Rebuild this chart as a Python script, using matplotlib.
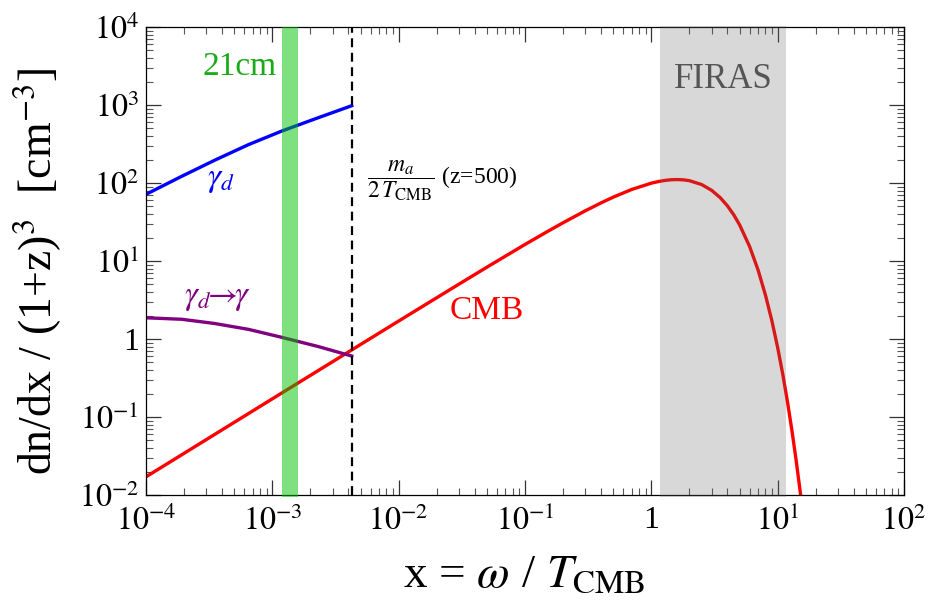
import numpy as np
import matplotlib
matplotlib.use('Agg')
import matplotlib.pyplot as plt
from matplotlib.ticker import LogLocator, NullFormatter, FuncFormatter

plt.rcParams['font.family'] = ['Liberation Serif', 'DejaVu Serif']
plt.rcParams['mathtext.fontset'] = 'stix'

# valores lidos do grafico
# espectro CMB
cmb_x = [1e-4, 1e-3, 1e-2, 0.03, 0.05, 0.1, 0.15, 0.2, 0.3, 0.4, 0.5, 0.7, 1.0, 1.15,
         1.3, 1.45, 1.6, 1.8, 2.0, 2.5, 3.0, 3.5, 4.0, 4.5, 5.0, 6.0, 7.0, 8.0, 9.0,
         10.0, 11.0, 12.0, 13.0, 14.0, 15.0, 15.5]
cmb_y = [0.0171, 0.171, 1.70, 5.05, 8.34, 16.3, 23.8, 30.9, 44.0, 55.6, 65.9, 82.7, 99.5, 104.8,
         108.3, 110.2, 110.7, 109.7, 107.1, 95.6, 80.6, 65.2, 51.0, 38.9, 29.0, 15.3, 7.65, 3.67, 1.71,
         0.776, 0.346, 0.151, 0.0653, 0.0279, 0.0118, 0.0076]

# foton escuro
gd_x = [1e-4, 1.92e-4, 3.5e-4, 6.46e-4, 1.19e-3, 2.31e-3, 4.25e-3]
gd_y = [71.6, 122, 196, 310, 464, 687, 979]

# conversao gamma_d -> gamma
conv_x = [1e-4, 1.92e-4, 3.5e-4, 6.46e-4, 1.19e-3, 2.31e-3, 4.25e-3]
conv_y = [1.87, 1.79, 1.58, 1.33, 1.05, 0.80, 0.605]

x_ma = 4.25e-3           # m_a / 2T_CMB (z=500)
banda_21cm = [1.2e-3, 1.6e-3]
banda_firas = [1.17, 11.7]

fig = plt.figure(figsize=(9.3, 6), dpi=100)
ax = fig.add_axes([146/930, 105/600, 758/930, 468/600])

ax.plot(cmb_x, cmb_y, color='#ff0000', lw=2.4)
ax.plot(gd_x, gd_y, color='#0000ff', lw=2.4)
ax.plot(conv_x, conv_y, color='#800080', lw=2.4)
ax.axvline(x_ma, color='black', lw=1.6, ls=(0, (4, 2.5)))

# faixas por cima das curvas (transparentes)
ax.axvspan(banda_21cm[0], banda_21cm[1], ymin=-0.004, ymax=1.0, color=(0, 0.76, 0),
           alpha=0.5, lw=0, clip_on=False, zorder=3)
ax.axvspan(banda_firas[0], banda_firas[1], ymin=-0.004, ymax=1.002, color=(0.4, 0.4, 0.4),
           alpha=0.25, lw=0, clip_on=False, zorder=3)

ax.set_xscale('log')
ax.set_yscale('log')
ax.set_xlim(1e-4, 1e2)
ax.set_ylim(1e-2, 1e4)


def fmt(v, pos):
    e = int(round(np.log10(v)))
    if e == 0:
        return '1'
    return r'$10^{%d}$' % e


for eixo in [ax.xaxis, ax.yaxis]:
    eixo.set_major_locator(LogLocator(base=10, numticks=20))
    eixo.set_minor_locator(LogLocator(base=10, subs=np.arange(2, 10), numticks=20))
    eixo.set_major_formatter(FuncFormatter(fmt))
    eixo.set_minor_formatter(NullFormatter())

ax.tick_params(which='both', direction='in', top=True, right=True, labelsize=23)
ax.tick_params(which='major', length=11, width=0.9, color='#333333')
ax.tick_params(which='minor', length=5, width=0.8, color='#555555')
ax.tick_params(axis='x', pad=8)
ax.tick_params(axis='y', pad=5)
for s in ax.spines.values():
    s.set_linewidth(0.9)

ax.set_xlabel(r'x = $\omega$ / $T_{\rm CMB}$', fontsize=34, va='center')
ax.xaxis.set_label_coords(0.499, -0.171)
ax.set_ylabel(r'dn/dx / (1+z)$^3$  [cm$^{-3}$]', fontsize=33, va='center')
ax.yaxis.set_label_coords(-0.1425, 0.478)

# textos
ax.text(5.5e-4, 3070, '21cm', color='#1aaa1a', fontsize=24, ha='center', va='center', zorder=5)
ax.text(3.7, 2150, 'FIRAS', color='#555555', fontsize=25, ha='center', va='center', zorder=5)
ax.text(3.93e-4, 109, r'$\gamma_d$', color='#0000ff', fontsize=24, ha='center', va='center', zorder=5)
ax.text(3.65e-4, 3.36, r'$\gamma_d\!\!\rightarrow\!\!\gamma$', color='#800080', fontsize=23.5,
        ha='center', va='center', zorder=5)
ax.text(0.050, 2.29, 'CMB', color='#ff0000', fontsize=24, ha='center', va='center', zorder=5)
ax.text(5.6e-3, 109, r'$\dfrac{m_a}{2\,T_{\rm CMB}}$ (z=500)', color='black', fontsize=17,
        ha='left', va='center', zorder=5)

fig.savefig('out.png', dpi=100)
